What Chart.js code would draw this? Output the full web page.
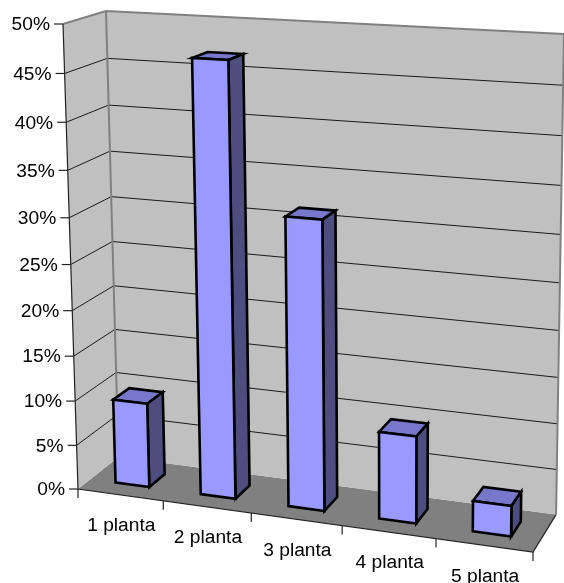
<!DOCTYPE html>
<html>
<head>
<meta charset="utf-8">
<style>html,body{margin:0;padding:0;background:#fff}canvas{display:block}</style>
<script src="https://cdn.jsdelivr.net/npm/chart.js@4/dist/chart.umd.js"></script>
</head>
<body>
<canvas id="chart" width="564" height="583"></canvas>
<script>
// Share of buildings by number of floors
const categories = ['1 planta', '2 planta', '3 planta', '4 planta', '5 planta'];
const shares = [9.5, 46.8, 31.3, 9.5, 3.3];
const valueMin = 0;
const valueMax = 50;
const valueStep = 5;

const colors = {
  wall: '#C0C0C0', floor: '#808080', frame: '#808080', grid: '#1a1a1a',
  front: '#9999FF', side: '#4D4D80', top: '#7777CC', outline: '#000000', text: '#000000'
};

// Box corners on screen, keyed by [across, height, depth]
const corners = [
  [1, 0, 0, 533, 552], [0, 1, 0, 63, 24], [0, 0, 1, 118.5, 457],
  [0, 1, 1, 106, 11], [1, 0, 1, 556, 515], [1, 1, 1, 564, 34]
];
const origin = [78, 489];
const depthFront = 0.3, depthBack = 0.7;
const heightBow = 0.023;

// Perspective weights fitted to the corners by least squares
function fitWeights() {
  const X = i => corners[i === 0 ? 0 : i === 1 ? 1 : 2];
  const N = [[0,0,0],[0,0,0],[0,0,0]], R = [0,0,0];
  for (const [u, v, w, px, py] of corners) {
    [[px, 3, origin[0]], [py, 4, origin[1]]].forEach(([t, k, o]) => {
      const r = [u*(t-X(0)[k]), v*(t-X(1)[k]), w*(t-X(2)[k])];
      const s = o*(1-u-v-w) + u*X(0)[k] + v*X(1)[k] + w*X(2)[k] - t;
      for (let i = 0; i < 3; i++) { R[i] += r[i]*s; for (let j = 0; j < 3; j++) N[i][j] += r[i]*r[j]; }
    });
  }
  for (let i = 0; i < 3; i++) N[i][i] += 1e-6;
  for (let i = 0; i < 3; i++) {
    for (let j = i + 1; j < 3; j++) {
      const f = N[j][i] / N[i][i];
      for (let k = i; k < 3; k++) N[j][k] -= f*N[i][k];
      R[j] -= f*R[i];
    }
  }
  const sol = [0,0,0];
  for (let i = 2; i >= 0; i--) {
    let s = R[i];
    for (let k = i + 1; k < 3; k++) s -= N[i][k]*sol[k];
    sol[i] = s / N[i][i];
  }
  return sol;
}
const [wa, wb, wc] = fitWeights();

function project(u, rawV, w) {
  const v = rawV - heightBow * rawV * (1 - rawV);
  const d = 1 + wa*u + wb*v + wc*w;
  const axis = (k, o) =>
    (o + u*(corners[0][k]*(1+wa)-o) + v*(corners[1][k]*(1+wb)-o) + w*(corners[2][k]*(1+wc)-o)) / d;
  return [axis(3, origin[0]), axis(4, origin[1])];
}

function poly(ctx, pts, fill, stroke, lw) {
  ctx.beginPath();
  pts.forEach((p, i) => i ? ctx.lineTo(p[0], p[1]) : ctx.moveTo(p[0], p[1]));
  if (fill) { ctx.closePath(); ctx.fillStyle = fill; ctx.fill(); }
  if (stroke) { ctx.strokeStyle = stroke; ctx.lineWidth = lw; ctx.lineJoin = 'miter'; ctx.stroke(); }
}

// Draws the whole chart in perspective from the library's scales and bar elements
const perspectiveBox = {
  id: 'perspectiveBox',
  beforeDatasetsDraw(chart) {
    const { ctx, chartArea: area, scales: { x, y } } = chart;
    const toU = px => (px - area.left) / area.width;
    const toV = py => (area.bottom - py) / area.height;
    const n = categories.length;
    ctx.save();

    // floor and walls
    poly(ctx, [project(0,0,0), project(1,0,0), project(1,0,1), project(0,0,1)], colors.floor);
    poly(ctx, [project(0,0,0), project(0,0,1), project(0,1,1), project(0,1,0)], colors.wall);
    poly(ctx, [project(0,0,1), project(1,0,1), project(1,1,1), project(0,1,1)], colors.wall);

    // gridlines across both walls
    y.ticks.forEach(t => {
      if (t.value === valueMin || t.value === valueMax) return;
      const v = toV(y.getPixelForValue(t.value));
      poly(ctx, [project(0,v,0), project(0,v,1), project(1,v,1)], null, colors.grid, 1);
    });

    // wall edges
    poly(ctx, [project(0,1,0), project(0,1,1), project(1,1,1), project(1,0,1)], null, colors.frame, 2);
    poly(ctx, [project(0,1,1), project(0,0,1)], null, colors.frame, 2);

    // axis lines and tick marks
    poly(ctx, [project(0,1,0), project(0,0,0), project(1,0,0), project(1,0,1)], null, '#222222', 1.2);
    ctx.fillStyle = colors.text;
    ctx.font = '19.2px "Liberation Sans", Arial, sans-serif';
    ctx.textBaseline = 'middle';
    ctx.textAlign = 'right';
    y.ticks.forEach(t => {
      const p = project(0, toV(y.getPixelForValue(t.value)), 0);
      poly(ctx, [[p[0]-9, p[1]], p], null, '#222222', 1.2);
      ctx.fillStyle = colors.text;
      ctx.fillText(t.label, p[0]-13, p[1]+1);
    });
    for (let i = 0; i <= n; i++) {
      const p = project(i/n, 0, 0);
      poly(ctx, [p, [p[0], p[1]+9]], null, '#222222', 1.2);
    }
    ctx.textAlign = 'center';
    x.ticks.forEach((t, i) => {
      const p = project(toU(x.getPixelForValue(i)), 0, 0);
      ctx.fillStyle = colors.text;
      ctx.fillText(categories[i], p[0]+1, p[1]+31);
    });

    // bars, one box per data element
    chart.getDatasetMeta(0).data.forEach(bar => {
      const u0 = toU(bar.x - bar.width/2), u1 = toU(bar.x + bar.width/2);
      const v = toV(bar.y), v0 = toV(bar.base);
      const f = depthFront, b = depthBack;
      poly(ctx, [project(u0,v,f), project(u1,v,f), project(u1,v,b), project(u0,v,b)], colors.top, colors.outline, 2.6);
      poly(ctx, [project(u1,v0,f), project(u1,v,f), project(u1,v,b), project(u1,v0,b)], colors.side, colors.outline, 2.6);
      poly(ctx, [project(u0,v0,f), project(u1,v0,f), project(u1,v,f), project(u0,v,f)], colors.front, colors.outline, 2.6);
    });

    ctx.restore();
    return false;
  }
};

new Chart(document.getElementById('chart'), {
  type: 'bar',
  data: {
    labels: categories,
    datasets: [{
      data: shares,
      backgroundColor: colors.front,
      borderColor: colors.outline,
      categoryPercentage: 0.4,
      barPercentage: 1
    }]
  },
  options: {
    responsive: false,
    animation: false,
    plugins: { legend: { display: false }, tooltip: { enabled: false } },
    layout: { padding: 0 },
    scales: {
      x: { display: false },
      y: {
        display: false,
        min: valueMin,
        max: valueMax,
        ticks: { stepSize: valueStep, callback: v => v + '%' }
      }
    }
  },
  plugins: [perspectiveBox]
});
</script>
</body>
</html>
